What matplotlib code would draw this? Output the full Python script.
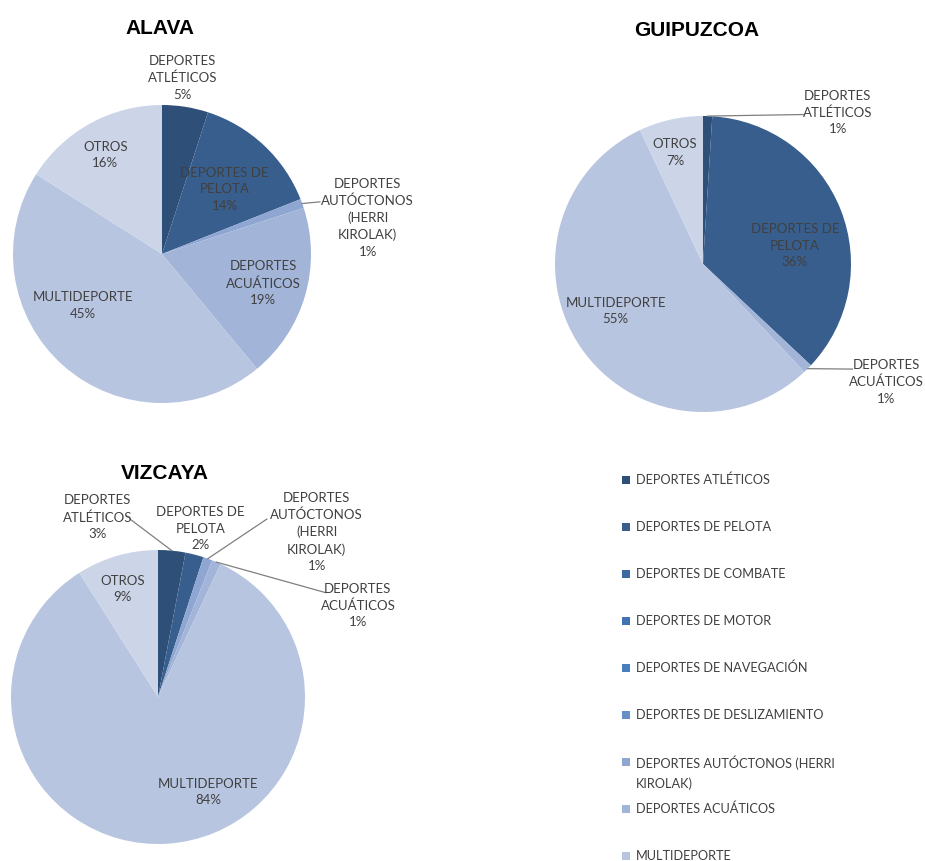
import numpy as np
import matplotlib
matplotlib.use("Agg")
import matplotlib.pyplot as plt
from matplotlib.patches import Rectangle

plt.rcParams["font.family"] = ["Lato", "DejaVu Sans"]

# categories (legend order) and their colours
categories = ["DEPORTES ATLÉTICOS", "DEPORTES DE PELOTA", "DEPORTES DE COMBATE",
              "DEPORTES DE MOTOR", "DEPORTES DE NAVEGACIÓN", "DEPORTES DE DESLIZAMIENTO",
              "DEPORTES AUTÓCTONOS (HERRI\nKIROLAK)", "DEPORTES ACUÁTICOS",
              "MULTIDEPORTE", "OTROS"]
pie_names = ["DEPORTES\nATLÉTICOS", "DEPORTES DE\nPELOTA", "DEPORTES DE\nCOMBATE",
             "DEPORTES DE\nMOTOR", "DEPORTES DE\nNAVEGACIÓN", "DEPORTES DE\nDESLIZAMIENTO",
             "DEPORTES\nAUTÓCTONOS\n(HERRI\nKIROLAK)", "DEPORTES\nACUÁTICOS",
             "MULTIDEPORTE", "OTROS"]
colors = ["#2E4F78", "#385E8D", "#3C69A2", "#4273B0", "#4A7EBB", "#658FC7",
          "#8EA6D1", "#A2B4D8", "#B8C5E0", "#CCD5E8"]

# percentages per province (same order as categories)
alava = [5, 14, 0, 0, 0, 0, 1, 19, 45, 16]
guipuzcoa = [1, 36, 0, 0, 0, 0, 0, 1, 55, 7]
vizcaya = [3, 2, 0, 0, 0, 0, 1, 1, 84, 9]

W, H = 925, 862
TXT = "#404040"
fig = plt.figure(figsize=(W / 100, H / 100), dpi=100)
fig.patch.set_facecolor("white")

# overlay in pixel coords for titles and legend
ov = fig.add_axes([0, 0, 1, 1])
ov.set_xlim(0, W)
ov.set_ylim(H, 0)
ov.axis("off")


def draw_pie(cx, cy, r, values, title, title_xy, label_pos, leaders):
    ax = fig.add_axes([(cx - r) / W, (H - cy - r) / H, 2 * r / W, 2 * r / H])
    idx = [i for i, v in enumerate(values) if v > 0]
    wedges, _ = ax.pie([values[i] for i in idx], colors=[colors[i] for i in idx],
                       startangle=90, counterclock=False, radius=1,
                       wedgeprops=dict(linewidth=0))
    ax.set_xlim(-1, 1)
    ax.set_ylim(-1, 1)
    ax.set_aspect("equal")
    for w, i in zip(wedges, idx):
        lx, ly = label_pos[i]
        ax.text(lx, ly, f"{pie_names[i]}\n{values[i]}%", ha="center", va="center",
                fontsize=9.5, color=TXT, linespacing=1.45, clip_on=False)
        if i in leaders:
            mid = np.deg2rad((w.theta1 + w.theta2) / 2)
            ex, ey = leaders[i]
            ax.plot([np.cos(mid), ex], [np.sin(mid), ey], color="#7F7F7F", lw=0.9,
                    clip_on=False)
    ov.text(title_xy[0], title_xy[1], title, ha="center", va="center",
            fontsize=15, fontweight="bold", color="black",
            family=["Liberation Sans", "DejaVu Sans"])


draw_pie(162, 255, 149, alava, "ALAVA", (160, 28),
         {0: (0.14, 1.19), 1: (0.42, 0.44), 6: (1.38, 0.25), 7: (0.68, -0.19),
          8: (-0.53, -0.34), 9: (-0.38, 0.67)},
         {6: (1.06, 0.35)})

draw_pie(703, 265, 148, guipuzcoa, "GUIPUZCOA", (697, 30),
         {0: (0.91, 1.03), 1: (0.62, 0.13), 7: (1.24, -0.79),
          8: (-0.59, -0.31), 9: (-0.19, 0.76)},
         {0: (0.68, 1.01), 7: (1.01, -0.71)})

draw_pie(158, 698, 147, vizcaya, "VIZCAYA", (165, 474),
         {0: (-0.41, 1.23), 1: (0.29, 1.15), 6: (1.08, 1.13), 7: (1.36, 0.63),
          8: (0.34, -0.64), 9: (-0.24, 0.74)},
         {0: (-0.19, 1.21), 6: (0.74, 1.21), 7: (1.14, 0.71)})

# legend (first nine categories, as in the original)
for k in range(9):
    y = 481 + k * 47
    ov.add_patch(Rectangle((622, y - 4), 8, 8, facecolor=colors[k], edgecolor="none"))
    ov.text(636, y - 7, categories[k], ha="left", va="top", fontsize=9.2,
            color=TXT, linespacing=1.65)

fig.savefig("out.png", dpi=100, facecolor="white")
